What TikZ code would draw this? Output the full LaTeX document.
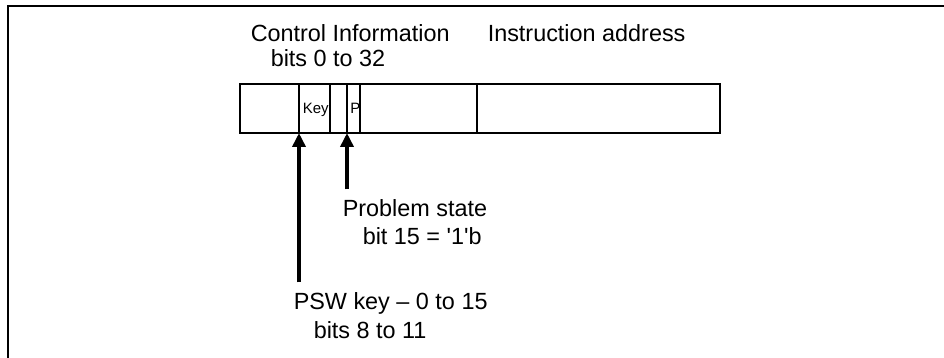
\documentclass[tikz,border=0pt]{standalone}
\usepackage{fontspec}
\setmainfont{Liberation Sans}
\usetikzlibrary{arrows.meta}
\begin{document}
\begin{tikzpicture}[x=0.5pt,y=-0.5pt,line width=0.75pt,
  lbl/.style={anchor=base west,inner sep=0pt,align=left,font=\fontsize{11.7}{14}\selectfont},
  small/.style={anchor=base west,inner sep=0pt,font=\fontsize{7.5}{8}\selectfont},
  bigarrow/.style={line width=2pt,shorten <=5pt,-{Triangle[length=7pt,width=6.5pt]}}]
\useasboundingbox (0,0) rectangle (944,358);
\draw (944,6)--(8,6)--(8,358);

\draw (240,84) rectangle (720,133);
\draw (299,84)--(299,133);
\draw (330,84)--(330,133);
\draw (347,84)--(347,133);
\draw (360,84)--(360,133);
\draw (477,84)--(477,133);
\coordinate (keybit) at (299,133);
\coordinate (pbit) at (347,133);

\node [lbl](ctrl) at (250,67) {Control Information\\[-1.5pt]\hspace*{10pt}bits 0 to 32};
\node [lbl](addr) at (487,42) {Instruction address};
\node [small](keyfld) at (302,114) {Key};
\node [small](pfld) at (349.5,114) {P};
\node [lbl](prob) at (342,245) {Problem state\\\hspace*{10pt}bit 15 = \textquotesingle1\textquotesingle b};
\node [lbl](psw) at (293,338) {PSW key -- 0 to 15\\\hspace*{10pt}bits 8 to 11};

\draw [bigarrow](prob.north -| pbit)--(pbit);
\draw [bigarrow](psw.north -| keybit)--(keybit);
\end{tikzpicture}
\end{document}
